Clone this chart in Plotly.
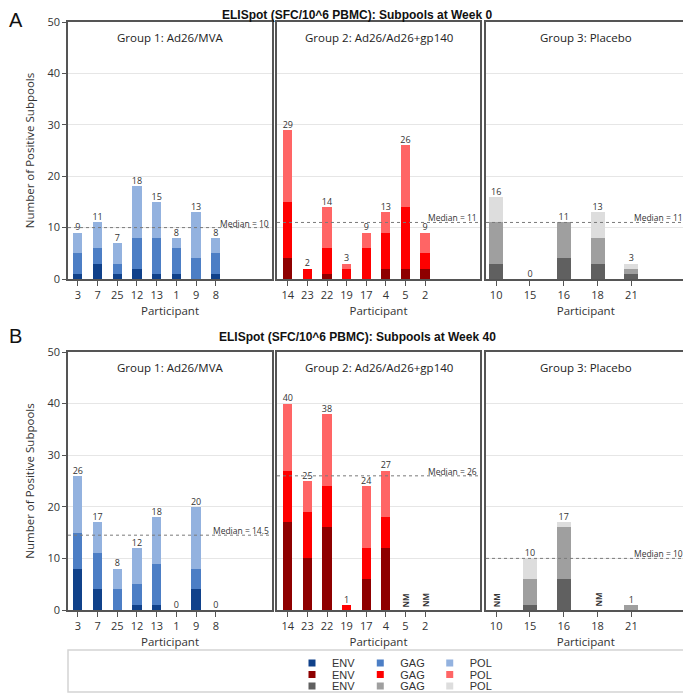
import plotly.graph_objects as go
from plotly.subplots import make_subplots

# ---------------- data ----------------
participants_g1 = ["3", "7", "25", "12", "13", "1", "9", "8"]
participants_g2 = ["14", "23", "22", "19", "17", "4", "5", "2"]
participants_g3 = ["10", "15", "16", "18", "21"]

group_names = ["Group 1: Ad26/MVA", "Group 2: Ad26/Ad26+gp140", "Group 3: Placebo"]
week_titles = ["ELISpot (SFC/10^6 PBMC): Subpools at Week 0",
               "ELISpot (SFC/10^6 PBMC): Subpools at Week 40"]
panel_letters = ["A", "B"]

# Week 0 (None = not measured)
w0_g1_env = [1, 3, 1, 2, 1, 1, 0, 1]
w0_g1_gag = [4, 3, 2, 6, 7, 5, 4, 4]
w0_g1_pol = [4, 5, 4, 10, 7, 2, 9, 3]
w0_g2_env = [4, 0, 1, 0, 0, 2, 2, 2]
w0_g2_gag = [11, 2, 5, 2, 6, 7, 12, 3]
w0_g2_pol = [14, 0, 8, 1, 3, 4, 12, 4]
w0_g3_env = [3, 0, 4, 3, 1]
w0_g3_gag = [8, 0, 7, 5, 1]
w0_g3_pol = [5, 0, 0, 5, 1]

# Week 40
w40_g1_env = [8, 4, 0, 1, 1, 0, 4, 0]
w40_g1_gag = [7, 7, 4, 4, 8, 0, 4, 0]
w40_g1_pol = [11, 6, 4, 7, 9, 0, 12, 0]
w40_g2_env = [17, 10, 16, 0, 6, 12, None, None]
w40_g2_gag = [10, 9, 8, 1, 6, 6, None, None]
w40_g2_pol = [13, 6, 14, 0, 12, 9, None, None]
w40_g3_env = [None, 1, 6, None, 0]
w40_g3_gag = [None, 5, 10, None, 1]
w40_g3_pol = [None, 4, 1, None, 0]

medians_w0 = [10, 11, 11]
medians_w40 = [14.5, 26, 10]

subpools = ["ENV", "GAG", "POL"]
colors = [
    ["#10418a", "#4c7ec5", "#93b2df"],   # group 1 blues
    ["#8e0000", "#fe0000", "#ff6565"],   # group 2 reds
    ["#606060", "#9f9f9f", "#dddddd"],   # group 3 greys
]

participants = [participants_g1, participants_g2, participants_g3]
data = [
    [[w0_g1_env, w0_g1_gag, w0_g1_pol], [w0_g2_env, w0_g2_gag, w0_g2_pol], [w0_g3_env, w0_g3_gag, w0_g3_pol]],
    [[w40_g1_env, w40_g1_gag, w40_g1_pol], [w40_g2_env, w40_g2_gag, w40_g2_pol], [w40_g3_env, w40_g3_gag, w40_g3_pol]],
]
medians = [medians_w0, medians_w40]

# ---------------- layout helpers ----------------
# The page body has an 8px margin, so the figure is sized to the visible area
# and positions below are given in window pixels.
OFF = 8
W, H = 691 - OFF, 694 - OFF
def px(x):
    return (x - OFF) / W
def py(y):
    return 1 - (y - OFF) / H

x_domains = [(px(68), px(272)), (px(277), px(480)), (px(486), px(685.5))]
y_domains = [(py(279), py(22)), (py(610), py(352))]
x_ranges = [[-0.5, 9.85], [-0.55, 9.8], [-0.3, 5.6]]
bar_widths = [0.47, 0.47, 0.41]

FONT = "Open Sans"
TXT = "#333333"

fig = make_subplots(rows=2, cols=3)

for r in range(2):
    for c in range(3):
        cats = participants[c]
        vals = data[r][c]
        for k in range(3):
            fig.add_trace(go.Bar(
                x=cats, y=vals[k], width=bar_widths[c],
                marker=dict(color=colors[c][k], line=dict(width=0)),
                showlegend=False, hoverinfo="x+y+name", name=subpools[k]),
                row=r + 1, col=c + 1)
        totals = []
        for i in range(len(cats)):
            if vals[0][i] is None:
                totals.append(None)
            else:
                totals.append(sum(v[i] for v in vals))
        fig.add_trace(go.Scatter(
            x=[cats[i] for i in range(len(cats)) if totals[i] is not None],
            y=[t for t in totals if t is not None],
            text=[str(t) for t in totals if t is not None],
            mode="text", textposition="top center",
            textfont=dict(family=FONT, size=9, color=TXT),
            cliponaxis=False, showlegend=False, hoverinfo="skip"),
            row=r + 1, col=c + 1)
        n = r * 3 + c + 1
        xr = "x" if n == 1 else f"x{n}"
        yr = "y" if n == 1 else f"y{n}"
        # NM labels (x given as category index)
        for i in range(len(cats)):
            if totals[i] is None:
                fig.add_annotation(x=i, y=0, xref=xr, yref=yr, text="<b>NM</b>",
                                   textangle=-90, showarrow=False, xanchor="center",
                                   yanchor="bottom", yshift=1,
                                   font=dict(family=FONT, size=8, color=TXT))
        # median line
        med = medians[r][c]
        fig.add_shape(type="line", xref=f"{xr} domain", yref=yr, x0=0, x1=1, y0=med, y1=med,
                      line=dict(color="#7a7a7a", width=1, dash="dot"))
        fig.add_annotation(xref=f"{xr} domain", yref=yr, x=1, y=med, text=f"Median = {med:g}",
                           showarrow=False, xanchor="right", yanchor="bottom", yshift=-2,
                           xshift=-2, borderpad=0,
                           font=dict(family=FONT, size=8.5, color=TXT))
        # group label
        fig.add_annotation(xref=f"{xr} domain", yref=f"{yr} domain", x=0.5, y=0.94,
                           text=group_names[c], showarrow=False, xanchor="center", yanchor="middle",
                           font=dict(family=FONT, size=11.5, color="#222222"))

        fig.update_xaxes(domain=x_domains[c], type="category", range=x_ranges[c],
                         showline=True, mirror=True, linecolor="#555555", linewidth=1.5,
                         ticks="outside", ticklen=5, tickcolor="#555555",
                         tickfont=dict(family=FONT, size=11, color=TXT),
                         title=dict(text="Participant", standoff=6,
                                    font=dict(family=FONT, size=11.5, color=TXT)),
                         showgrid=False, zeroline=False, fixedrange=True, automargin=False,
                         row=r + 1, col=c + 1)
        fig.update_yaxes(domain=y_domains[r], range=[0, 50], tickvals=[0, 10, 20, 30, 40, 50],
                         showline=True, mirror=True, linecolor="#555555", linewidth=1.5,
                         showgrid=True, gridcolor="#e6e6e6", gridwidth=1, zeroline=False,
                         ticks="outside" if c == 0 else "", ticklen=4, tickcolor="#555555",
                         showticklabels=(c == 0),
                         tickfont=dict(family=FONT, size=11, color=TXT),
                         title=dict(text="Number of Positive Subpools" if c == 0 else "",
                                    standoff=10, font=dict(family=FONT, size=11.5, color=TXT)),
                         fixedrange=True, automargin=False, row=r + 1, col=c + 1)

# titles and panel letters
title_y = [15, 337]
for r in range(2):
    fig.add_annotation(xref="paper", yref="paper", x=px(357), y=py(title_y[r]),
                       text=f"<b>{week_titles[r]}</b>", showarrow=False,
                       xanchor="center", yanchor="middle",
                       font=dict(family="Liberation Sans", size=12, color="#111111"))
fig.add_annotation(xref="paper", yref="paper", x=0, y=1, text=panel_letters[0],
                   showarrow=False, xanchor="left", yanchor="top", borderpad=0,
                   font=dict(family="Liberation Sans", size=20, color="#111111"))
fig.add_annotation(xref="paper", yref="paper", x=0, y=py(336), text=panel_letters[1],
                   showarrow=False, xanchor="left", yanchor="middle", borderpad=0,
                   font=dict(family="Liberation Sans", size=20, color="#111111"))

# legends: one row per group
legend_names = ["legend", "legend2", "legend3"]
legend_rows = [663, 674.5, 686]
for c in range(3):
    for k in range(3):
        fig.add_trace(go.Scatter(x=[None], y=[None], mode="markers", name=subpools[k],
                                 marker=dict(symbol="square", size=7, color=colors[c][k]),
                                 legend=legend_names[c], showlegend=True, hoverinfo="skip"))

legend_common = dict(orientation="h", x=px(292), xanchor="left", yanchor="middle",
                     font=dict(family="Liberation Sans", size=11, color=TXT),
                     bgcolor="rgba(0,0,0,0)", itemwidth=30, tracegroupgap=0,
                     traceorder="normal", borderwidth=0)
fig.update_layout(
    legend=dict(y=py(legend_rows[0]), **legend_common),
    legend2=dict(y=py(legend_rows[1]), **legend_common),
    legend3=dict(y=py(legend_rows[2]), **legend_common),
)

fig.add_shape(type="rect", xref="paper", yref="paper", x0=px(68), x1=px(685.5),
              y0=py(692), y1=py(650), line=dict(color="#d4d4d4", width=1.5), layer="below")

fig.update_layout(width=W, height=H, margin=dict(l=0, r=0, t=0, b=0, autoexpand=False),
                  plot_bgcolor="white", paper_bgcolor="white",
                  barmode="stack", showlegend=True,
                  font=dict(family=FONT, color=TXT))

fig.write_html("out.html")
